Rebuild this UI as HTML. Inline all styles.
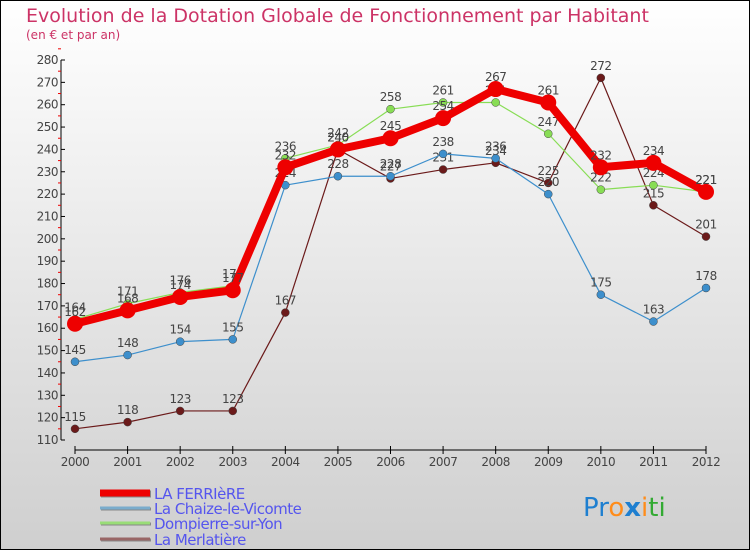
<!DOCTYPE html>
<html><head><meta charset="utf-8"><style>
body{margin:0;width:750px;height:550px;overflow:hidden}
svg{display:block;font-family:"DejaVu Sans","Liberation Sans",sans-serif}
</style></head><body>
<svg id="c" width="750" height="550" xmlns="http://www.w3.org/2000/svg">
<defs><linearGradient id="bg" x1="0" y1="0" x2="0" y2="1"><stop offset="0" stop-color="#ffffff"/><stop offset="1" stop-color="#cfcfcf"/></linearGradient></defs>
<rect x="0.5" y="0.5" width="749" height="549" fill="url(#bg)" stroke="#000"/>
<text x="26" y="22" font-size="19" fill="#cc3366">Evolution de la Dotation Globale de Fonctionnement par Habitant</text>
<text x="26" y="39" font-size="12" fill="#cc3366">(en € et par an)</text>
<g id="axes"></g>
<g id="series"></g>
<g id="legend"></g>
<text x="583" y="516" font-size="26" font-family="'DejaVu Sans',sans-serif"><tspan fill="#1e7fd0">Pr</tspan><tspan fill="#ff8c1a">o</tspan><tspan fill="#1e7fd0" font-weight="bold">x</tspan><tspan fill="#ff8c1a">i</tspan><tspan fill="#33aa33">ti</tspan></text>
</svg>
<script>
const years=[2000,2001,2002,2003,2004,2005,2006,2007,2008,2009,2010,2011,2012];
const ferriere=[162,168,174,177,232,240,245,254,267,261,232,234,221];
const chaize=[145,148,154,155,224,228,228,238,236,220,175,163,178];
const dompierre=[164,171,176,179,236,242,258,261,261,247,222,224,221];
const merlatiere=[115,118,123,123,167,240,227,231,234,225,272,215,201];
const yTicks=[110,120,130,140,150,160,170,180,190,200,210,220,230,240,250,260,270,280];
const seriesNames=["LA FERRIèRE","La Chaize-le-Vicomte","Dompierre-sur-Yon","La Merlatière"];

const NS="http://www.w3.org/2000/svg";
const x=i=>75+i*(706-75)/(years.length-1);
const y=v=>440-(v-110)*(380/170);
function mk(tag,attrs,parent){const e=document.createElementNS(NS,tag);for(const k in attrs)e.setAttribute(k,attrs[k]);parent.appendChild(e);return e;}
const axes=document.getElementById('axes'),sg=document.getElementById('series'),lg=document.getElementById('legend');

let yl=mk('line',{x1:61,y1:y(280),x2:61,y2:y(110),stroke:'#000'},axes);


yTicks.forEach(v=>{
  mk('line',{x1:61,x2:65,y1:y(v),y2:y(v),stroke:'#000'},axes);
  mk('line',{x1:58,x2:61,y1:y(v+5),y2:y(v+5),stroke:'#e00'},axes);
  const t=mk('text',{x:58,y:y(v)+4,'font-size':12,'text-anchor':'end',fill:'#444','letter-spacing':'-0.5'},axes);
  t.textContent=v;
  
  
});
let xl=mk('line',{x1:x(0),y1:450,x2:x(12),y2:450,stroke:'#000'},axes);


years.forEach((yr,i)=>{
  mk('line',{x1:x(i),x2:x(i),y1:446,y2:454,stroke:'#000'},axes);
  const t=mk('text',{x:x(i),y:466,'font-size':12,'text-anchor':'middle',fill:'#444','letter-spacing':'-0.5'},axes);
  t.textContent=yr;
  
  
});

const defs=[
 {d:merlatiere,c:'#6b1a1a',w:1.2,r:4,n:'merlatiere'},
 {d:chaize,c:'#3d8fcc',w:1.2,r:4,n:'chaize'},
 {d:dompierre,c:'#88dd55',w:1.2,r:4,n:'dompierre'},
 {d:ferriere,c:'#ee0000',w:8,r:8,n:'ferriere'}
];
defs.forEach(s=>{
  const g=mk('g',{},sg);
  
  
  const pl=mk('polyline',{points:s.d.map((v,i)=>x(i)+','+y(v)).join(' '),fill:'none',stroke:s.c,'stroke-width':s.w,'stroke-linejoin':'round'},g);
  
  
  s.d.forEach((v,i)=>{
    const c=mk('circle',{cx:x(i),cy:y(v),r:s.r,fill:s.c,stroke:s.n==='ferriere'?'#ee0000':'#444','stroke-width':s.n==='ferriere'?0:0.5},g);
    
    
    const t=mk('text',{x:x(i),y:y(v)-8,'font-size':12,'text-anchor':'middle',fill:'#444','letter-spacing':'-0.5'},g);
    t.textContent=v;
    
    
  });
});

const lc=['#ee0000','#7aaccc','#99dd77','#996666'],lw=[7,3,3,3],ly=[493,508,523,539];
seriesNames.forEach((n,i)=>{
  const g=mk('g',{},lg);
  
  
  mk('line',{x1:101,x2:151,y1:ly[i]+1,y2:ly[i]+1,stroke:'#888','stroke-width':lw[i]},g);
  mk('line',{x1:100,x2:150,y1:ly[i],y2:ly[i],stroke:lc[i],'stroke-width':lw[i]},g);
  const t=mk('text',{x:154,y:ly[i]+6,'font-size':15,fill:'#5555ee','letter-spacing':'-0.5'},g);
  t.textContent=n;
});
</script>
</body></html>
